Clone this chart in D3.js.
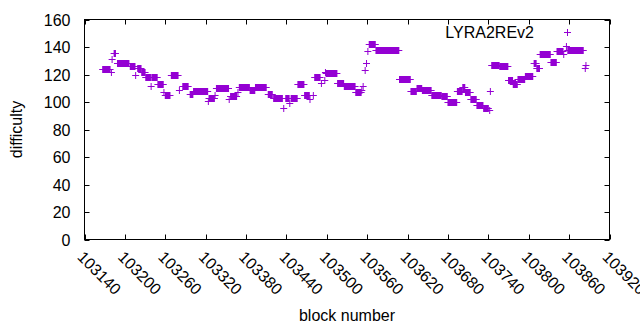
<!DOCTYPE html>
<html><head><meta charset="utf-8">
<script src="https://cdn.jsdelivr.net/npm/d3@7"></script>
<style>body{margin:0;background:#fff}svg{display:block}text{font-family:"Liberation Sans",Arial,sans-serif;fill:#000}</style>
</head><body><svg id="c" width="640" height="330"></svg>
<script>
// Runs of consecutive blocks sharing the same difficulty
const runStart = [103167,103180,103181,103184,103189,103208,103216,103219,103225,103231,103239,103240,103249,103258,103260,103269,103281,103286,103297,103302,103324,103325,103334,103336,103355,103357,103368,103370,103386,103394,103413,103421,103436,103439,103445,103447,103457,103467,103475,103480,103482,103492,103497,103498,103499,103516,103526,103543,103552,103554,103557,103559,103561,103563,103573,103608,103625,103634,103642,103656,103671,103680,103694,103702,103706,103714,103723,103733,103742,103743,103745,103757,103770,103777,103784,103795,103808,103812,103817,103833,103842,103852,103856,103858,103884,103885];
const runEnd   = [103178,103180,103181,103186,103206,103215,103216,103224,103230,103238,103239,103248,103257,103258,103267,103279,103281,103294,103301,103323,103324,103333,103334,103354,103355,103366,103368,103385,103393,103410,103419,103434,103436,103444,103445,103456,103466,103474,103475,103480,103490,103492,103497,103498,103515,103525,103542,103551,103552,103554,103557,103559,103561,103572,103607,103624,103633,103641,103655,103670,103679,103693,103701,103705,103713,103722,103732,103740,103742,103743,103756,103769,103776,103783,103794,103806,103811,103816,103832,103841,103851,103852,103856,103881,103884,103885];
const difficulty = [124,122,131,136,128,126,120,125,122,118,112,118,113,107,105,120,109,112,106,108,101,103,105,110,102,104,107,111,109,111,106,103,96,103,99,103,113,105,102,105,118,114,116,122,121,114,112,107,109,112,123,128,137,142,138,117,108,110,109,105,104,100,108,111,107,102,98,96,94,108,127,126,116,113,117,119,128,125,135,129,137,135,141,138,125,127];
const xTicks = [103140,103200,103260,103320,103380,103440,103500,103560,103620,103680,103740,103800,103860,103920];
const yTicks = [0,20,40,60,80,100,120,140,160];
const seriesName = "LYRA2REv2";

const svg = d3.select("#c");
const L = 84.5, R = 609.5, T = 19.5, B = 239.5;
const color = "#9400d3";
const fs = 16;
const x = d3.scaleLinear().domain([103140,103920]).range([L,R]);
const y = d3.scaleLinear().domain([0,160]).range([B,T]);
const hs = 3.5, tl = 5;

// ticks (inward, mirrored)
const g = svg.append("g").attr("stroke","#000").attr("stroke-width",1);
yTicks.forEach(v=>{
  const yy = Math.round(y(v))+0.5;
  g.append("line").attr("x1",L).attr("x2",L+tl).attr("y1",yy).attr("y2",yy);
  g.append("line").attr("x1",R).attr("x2",R-tl).attr("y1",yy).attr("y2",yy);
});
xTicks.forEach(v=>{
  const xx = Math.round(x(v))+0.5;
  g.append("line").attr("x1",xx).attr("x2",xx).attr("y1",B).attr("y2",B-tl);
  g.append("line").attr("x1",xx).attr("x2",xx).attr("y1",T).attr("y2",T+tl);
});
svg.selectAll(".yl").data(yTicks).enter().append("text")
  .attr("x",L-14).attr("y",d=>y(d)+6).attr("text-anchor","end").attr("font-size",fs).text(d=>d);
svg.selectAll(".xl").data(xTicks).enter().append("text")
  .attr("transform",d=>`translate(${x(d)-8},${B+18.5}) rotate(45)`)
  .attr("text-anchor","start").attr("font-size",fs).text(d=>d);

// data marks: '+' glyphs at every block of each run
const pts = svg.append("g").attr("stroke",color).attr("fill",color);
runStart.forEach((s,i)=>{
  const e = runEnd[i], yy = Math.round(y(difficulty[i]))+0.5;
  const x0 = x(s), x1 = x(e);
  pts.append("line").attr("x1",x0-hs).attr("x2",x1+hs).attr("y1",yy).attr("y2",yy).attr("stroke-width",1);
  pts.append("rect").attr("x",x0-0.5).attr("width",x1-x0+1).attr("y",yy-hs).attr("height",2*hs).attr("stroke","none");
});

// border
svg.append("rect").attr("x",L).attr("y",T).attr("width",R-L).attr("height",B-T)
  .attr("fill","none").attr("stroke","#000").attr("stroke-width",1);

// legend
svg.append("text").attr("x",534).attr("y",38).attr("text-anchor","end").attr("font-size",fs).text(seriesName);
const lx = 567.5, ly = 32.5;
svg.append("path").attr("d",`M${lx-hs},${ly}H${lx+hs}M${lx},${ly-hs}V${ly+hs}`).attr("stroke",color).attr("stroke-width",1);

// axis titles
svg.append("text").attr("x",(L+R)/2).attr("y",321).attr("text-anchor","middle").attr("font-size",fs).text("block number");
svg.append("text").attr("transform",`translate(22,${(T+B)/2}) rotate(-90)`).attr("text-anchor","middle").attr("font-size",fs).text("difficulty");
</script></body></html>
